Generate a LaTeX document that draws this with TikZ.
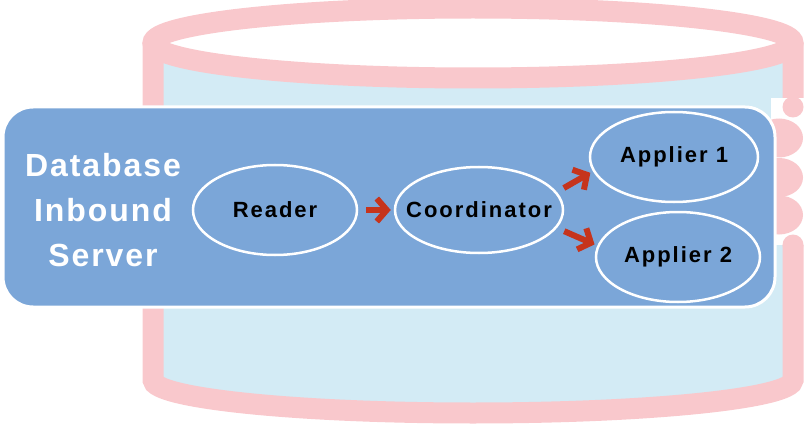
\documentclass[tikz,border=0pt]{standalone}
\usepackage{fontspec}
\usepackage{tikz}
\usetikzlibrary{shapes.geometric,arrows.meta}
\newfontfamily\titlefont[LetterSpace=6]{Liberation Sans}
\newfontfamily\labelfont[LetterSpace=9]{Liberation Sans}
\definecolor{cylpink}{HTML}{F9C8CC}
\definecolor{cylfill}{HTML}{D3EBF5}
\definecolor{srvblue}{HTML}{7BA6D8}
\definecolor{flowred}{HTML}{C6341C}

\begin{document}
\begin{tikzpicture}[x=1pt, y=1pt,
	cyl/.style={cylpink, line width=21pt},
	proc/.style={ellipse, draw=white, line width=2.5pt, fill=srvblue, inner sep=0pt, font=\labelfont\bfseries\fontsize{22}{24}\selectfont},
	flow/.style={flowred, line width=6pt, -{Straight Barb[length=10pt,width=23pt]}, shorten <=8pt, shorten >=3pt}]
	\useasboundingbox (0,0) rectangle (804,424);
	\coordinate (T) at (473,381);
	\coordinate (B) at (473,44);
	\fill[cylfill] (153,381) -- (153,44) arc[start angle=180, end angle=360, x radius=320, y radius=33] -- (793,381) -- cycle;
	\fill[white, shift={(T)}] (0,0) ellipse[x radius=320, y radius=35];
	\draw[cyl] (153,381) -- (153,44) arc[start angle=180, end angle=360, x radius=320, y radius=33] -- (793,381);
	\draw[cyl, shift={(T)}] (0,0) ellipse[x radius=320, y radius=35];
	% rings behind the server
	\fill[white] (771,179) rectangle (806,326);
	\fill[cylpink] (793,317) circle[radius=10.5];
	\fill[cylpink] (793,179) circle[radius=10.5];
	\foreach \y in {286,246.5,209}
		\fill[cylpink] (779,\y) ellipse[x radius=24, y radius=19.5];
	\node[draw=white, line width=3pt, fill=srvblue, rounded corners=30pt, minimum width=772pt, minimum height=200pt, inner sep=0pt] (server) at (389,217) {};
	\node[text=white, align=center, font=\titlefont\bfseries\fontsize{32}{45}\selectfont] (title) at (103,213.5) {Database\\Inbound\\Server};
	\node[proc, minimum width=164pt, minimum height=90pt] (reader) at (275,214) {\makebox[0pt]{Reader}};
	\node[proc, minimum width=168pt, minimum height=86pt] (coord) at (479,214) {\makebox[0pt]{Coordinator}};
	\node[proc, minimum width=168pt, minimum height=90pt] (app1) at (674,267) {\makebox[0pt]{Applier 1}};
	\node[proc, minimum width=164pt, minimum height=90pt] (app2) at (678,167) {\makebox[0pt]{Applier 2}};
	\draw[flow] (reader) -- (coord);
	\draw[flow] (coord.13) -- (app1.190);
	\draw[flow] (coord.-13) -- (app2.172);
\end{tikzpicture}
\end{document}
